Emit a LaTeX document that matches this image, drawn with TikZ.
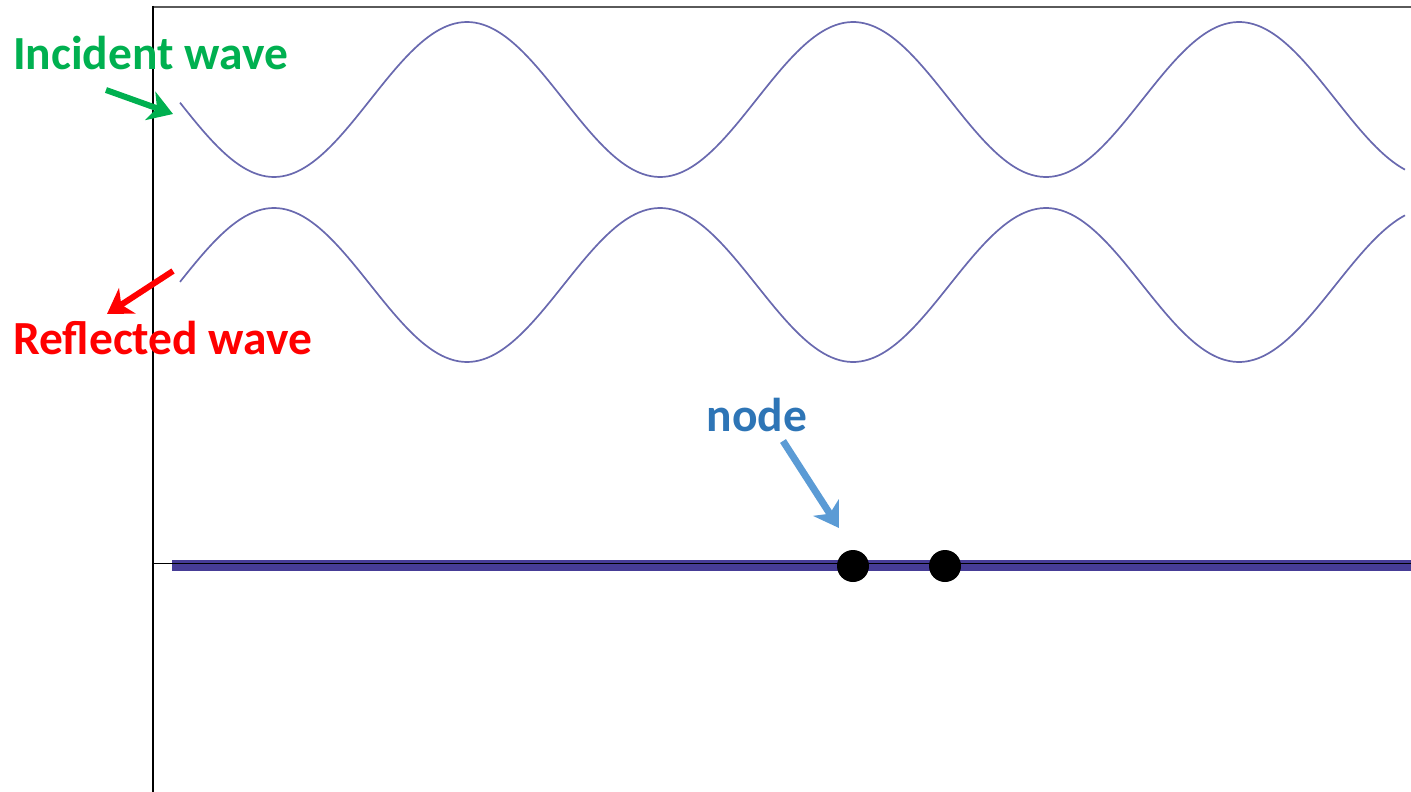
\documentclass[tikz,border=0pt]{standalone}
\usepackage{fontspec}
\setmainfont{Carlito}
\usetikzlibrary{arrows.meta}
\definecolor{wavec}{RGB}{105,105,175}
\definecolor{barc}{RGB}{70,60,150}
\definecolor{incg}{RGB}{0,176,80}
\definecolor{nodeb}{RGB}{46,117,182}
\definecolor{arrb}{RGB}{91,155,213}
\definecolor{topg}{RGB}{90,90,90}
\tikzset{
  wave/.style={draw=wavec,line width=1.7pt},
  lbl/.style={font=\fontsize{47.5}{52}\selectfont\bfseries,inner sep=0pt},
  pointer/.style={line width=6pt,-{Stealth[length=24pt,width=30pt,inset=7pt]}},
  dot/.style={circle,fill=black,minimum size=32pt,inner sep=0pt}
}
\begin{document}
\begin{tikzpicture}[x=1pt,y=-1pt]
\useasboundingbox (0,0) rectangle (1411,792);
% frame
\draw[topg,line width=2pt] (152,7) -- (1411,7);
\draw[black,line width=1.6pt] (153,6) -- (153,792);
% bar
\draw[barc,line width=11pt] (172,565.5) -- (1411,565.5);
\draw[black,line width=1.3pt] (153,563.5) -- (1411,563.5);
% waves
\draw[wave,domain=180:1405,samples=300,smooth,variable=\x]
  plot ({\x},{99.5+77.5*sin(0.932642*(\x-177.5))});
\draw[wave,domain=180:1405,samples=300,smooth,variable=\x]
  plot ({\x},{285-77*sin(0.932642*(\x-177.5))});
% dots
\node[dot] (d1) at (853,566) {};
\node[dot] (d2) at (945,566) {};
% labels
\node[lbl,text=incg,anchor=west] (inc) at (13,53) {Incident wave};
\node[lbl,text=red,anchor=west] (ref) at (13,338) {Reflected wave};
\node[lbl,text=nodeb] (nd) at (757,415) {node};
% arrows
\coordinate (ia) at (106,90);
\coordinate (ib) at (173,114);
\coordinate (ra) at (173,271);
\coordinate (rb) at (107,314);
\coordinate (na) at (783,441);
\coordinate (nb) at (839,528);
\draw[pointer,incg] (ia) -- (ib);
\draw[pointer,red] (ra) -- (rb);
\draw[pointer,arrb,line width=7pt] (na) -- (nb);
\end{tikzpicture}
\end{document}
